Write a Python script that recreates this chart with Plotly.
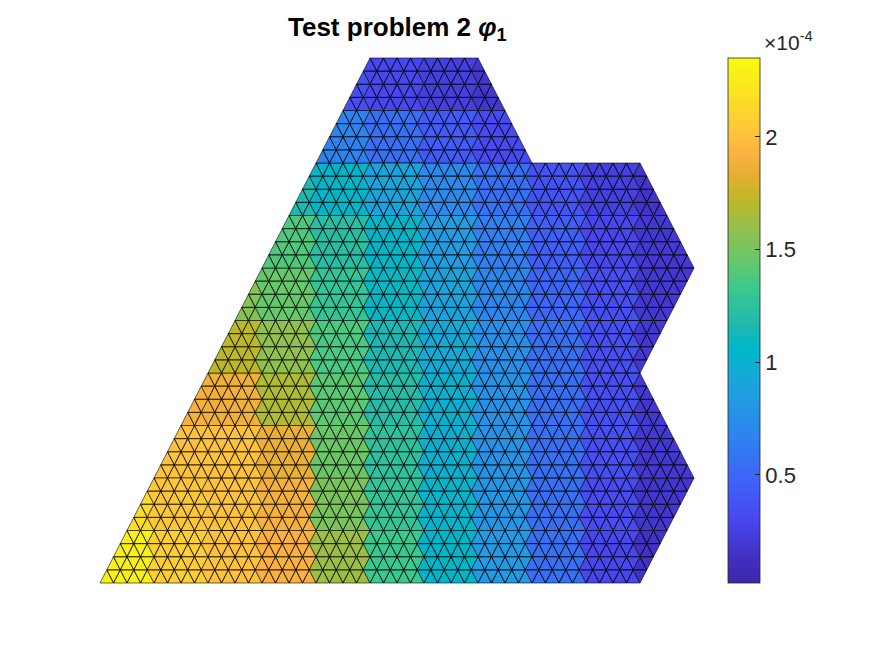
import plotly.graph_objects as go

# Domain outline in lattice units (i along bottom, r = row)
OUTLINE_I = [0, 40, 40, 32, 32, 24, 16, 8, 0]
OUTLINE_R = [0, 0, 8, 16, 24, 32, 32, 40, 40]
N_ROWS = 40

# phi_1 (x1e-4) read per band of 4 rows (bottom to top) and per 4-unit horizontal bin
BAND_VALUES = [
    [2.28, 2.08, 2.00, 1.92, 1.62, 1.32, 1.05, 0.82, 0.55, 0.30, 0.15],
    [2.15, 2.03, 2.00, 1.90, 1.52, 1.28, 1.03, 0.80, 0.55, 0.33, 0.18],
    [2.00, 2.00, 2.00, 1.85, 1.47, 1.25, 1.00, 0.78, 0.55, 0.35, 0.20],
    [1.90, 1.90, 1.88, 1.68, 1.42, 1.20, 1.00, 0.78, 0.55, 0.35, 0.20],
    [1.72, 1.72, 1.72, 1.58, 1.37, 1.15, 0.95, 0.75, 0.55, 0.35, 0.20],
    [1.55, 1.55, 1.55, 1.45, 1.28, 1.08, 0.90, 0.70, 0.50, 0.35, 0.20],
    [1.40, 1.40, 1.40, 1.38, 1.22, 1.05, 0.85, 0.65, 0.45, 0.30, 0.20],
    [1.15, 1.15, 1.15, 1.15, 1.05, 0.90, 0.72, 0.55, 0.38, 0.25, 0.16],
    [0.72, 0.72, 0.72, 0.72, 0.68, 0.55, 0.42, 0.32, 0.24, 0.18, 0.15],
    [0.38, 0.38, 0.38, 0.38, 0.36, 0.30, 0.24, 0.18, 0.15, 0.15, 0.15],
]
CMIN, CMAX = 0.02, 2.35
TICKS = [0.5, 1, 1.5, 2]
TICK_LABELS = ["0.5", "1", "1.5", "2"]

PARULA = [
    (0.0, (62, 38, 168)), (0.048, (64, 48, 192)), (0.124, (72, 72, 240)),
    (0.187, (64, 96, 248)), (0.27, (48, 128, 240)), (0.365, (32, 160, 224)),
    (0.448, (0, 184, 200)), (0.49, (32, 184, 176)), (0.555, (56, 200, 144)),
    (0.606, (96, 200, 112)), (0.67, (144, 192, 80)), (0.733, (192, 184, 40)),
    (0.77, (224, 176, 48)), (0.816, (251, 176, 64)), (0.854, (254, 196, 60)),
    (1.0, (249, 251, 14)),
]


def color_of(v):
    t = min(max((v - CMIN) / (CMAX - CMIN), 0), 1)
    for (t0, c0), (t1, c1) in zip(PARULA, PARULA[1:]):
        if t <= t1:
            f = (t - t0) / (t1 - t0)
            c = [round(a + (b - a) * f) for a, b in zip(c0, c1)]
            return "rgb(%d,%d,%d)" % tuple(c)
    return "rgb(249,251,14)"


def inside(px, py):
    n = len(OUTLINE_I)
    ins = False
    for k in range(n):
        x1, y1 = OUTLINE_I[k], OUTLINE_R[k]
        x2, y2 = OUTLINE_I[(k + 1) % n], OUTLINE_R[(k + 1) % n]
        if (y1 > py) != (y2 > py):
            xc = x1 + (py - y1) * (x2 - x1) / (y2 - y1)
            if px < xc:
                ins = not ins
    return ins


def to_xy(i, r):
    return i + r / 2.0, r


groups = {}
for r in range(N_ROWS):
    for i in range(-5, 45):
        tris = [[(i, r), (i + 1, r), (i, r + 1)],
                [(i + 1, r), (i + 1, r + 1), (i, r + 1)]]
        for tri in tris:
            ci = sum(p[0] for p in tri) / 3
            cr = sum(p[1] for p in tri) / 3
            if not inside(ci, cr):
                continue
            u = ci + cr / 2
            col = min(max(int(u // 4), 0), 10)
            v = BAND_VALUES[r // 4][col]
            xs, ys = [], []
            for p in tri + [tri[0]]:
                x, y = to_xy(*p)
                xs.append(x)
                ys.append(y)
            g = groups.setdefault(v, ([], []))
            g[0].extend(xs + [None])
            g[1].extend(ys + [None])

fig = go.Figure()
for v, (xs, ys) in groups.items():
    fig.add_trace(go.Scatter(x=xs, y=ys, mode="lines", fill="toself",
                             fillcolor=color_of(v),
                             line=dict(color="rgba(0,0,0,0.85)", width=0.7),
                             hoverinfo="skip", showlegend=False))

cs = [[t, "rgb(%d,%d,%d)" % c] for t, c in PARULA]
fig.add_trace(go.Scatter(
    x=[None], y=[None], mode="markers", showlegend=False,
    marker=dict(color=[CMIN], cmin=CMIN, cmax=CMAX, colorscale=cs, showscale=True,
                colorbar=dict(x=720 / 875, xanchor="left", xref="paper",
                              y=1 - 312.5 / 656, yanchor="middle",
                              len=525 / 656, lenmode="fraction", thickness=32,
                              outlinecolor="#262626", outlinewidth=0.8,
                              tickvals=TICKS, ticktext=TICK_LABELS,
                              ticks="inside", ticklen=5, tickcolor="#262626",
                              tickfont=dict(family="Liberation Sans, Arial", size=22, color="#262626"),
                              xpad=0, ypad=0))))

fig.add_annotation(x=754 / 875, y=1 - 33 / 656, xref="paper", yref="paper",
                   text="×10<sup>-4</sup>", showarrow=False, xanchor="left",
                   yanchor="middle",
                   font=dict(family="Liberation Sans, Arial", size=21, color="#262626"))
fig.add_annotation(x=389 / 875, y=1 - 20 / 656, xref="paper", yref="paper",
                   text="<b>Test problem 2 <i>φ</i><sub>1</sub></b>", showarrow=False,
                   xanchor="center", yanchor="middle",
                   font=dict(family="Liberation Sans, Arial", size=26, color="black"))

fig.update_layout(
    width=875, height=656, margin=dict(l=0, r=0, t=0, b=0),
    paper_bgcolor="white", plot_bgcolor="white",
    xaxis=dict(range=[-92 / 13.5, 783 / 13.5], visible=False, fixedrange=True),
    yaxis=dict(range=[(575 - 656) / 13.125, 575 / 13.125], visible=False, fixedrange=True),
)
fig.write_html("out.html")
